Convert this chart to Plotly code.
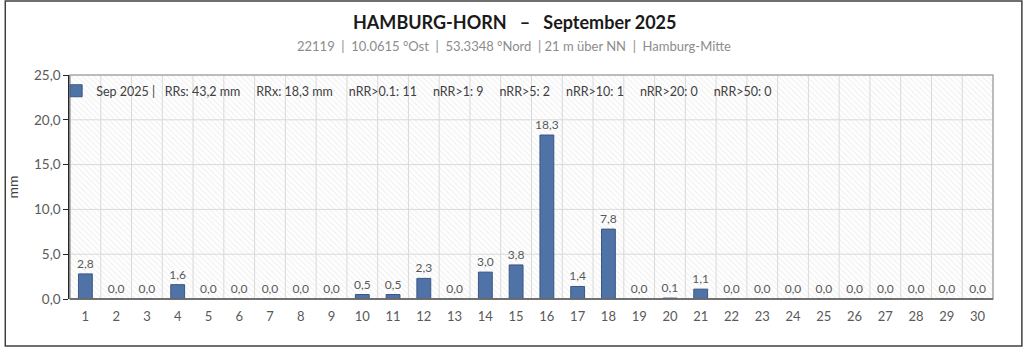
import plotly.graph_objects as go

days = list(range(1, 31))
precip = [2.8, 0.0, 0.0, 1.6, 0.0, 0.0, 0.0, 0.0, 0.0, 0.5,
          0.5, 2.3, 0.0, 3.0, 3.8, 18.3, 1.4, 7.8, 0.0, 0.1,
          1.1, 0.0, 0.0, 0.0, 0.0, 0.0, 0.0, 0.0, 0.0, 0.0]
y_ticks = [0, 5, 10, 15, 20, 25]
legend_name = ("Sep 2025 |   RRs: 43,2 mm     RRx: 18,3 mm     nRR>0.1: 11     nRR>1: 9     "
               "nRR>5: 2     nRR>10: 1     nRR>20: 0     nRR>50: 0")
title_text = "HAMBURG-HORN   –   September 2025"
subtitle_text = "22119  |  10.0615 °Ost  |  53.3348 °Nord  | 21 m über NN  |  Hamburg-Mitte"

FONT = "Lato"
W, H = 1024, 348
L, R, T, B = 66, 31, 75, 49
pw, ph = W - L - R, H - T - B

def fmt(v):
    return f"{v:.1f}".replace(".", ",")

fig = go.Figure()

# hatched background on base axis
fig.add_trace(go.Bar(
    x=[15.5], y=[25], width=[30], xaxis="x", yaxis="y",
    marker=dict(color="white", line=dict(width=0),
                pattern=dict(shape="\\", fgcolor="#e3e3e3", bgcolor="white", size=4, solidity=0.3)),
    showlegend=False, hoverinfo="skip"))

# grid lines (drawn above hatch, below data bars)
gx, gy = [], []
for d in days[:-1]:
    gx += [d + 0.5, d + 0.5, None]
    gy += [0, 25, None]
for t in y_ticks[1:-1]:
    gx += [0.5, 30.5, None]
    gy += [t, t, None]
fig.add_trace(go.Scatter(x=gx, y=gy, mode="lines", xaxis="x", yaxis="y",
                         line=dict(color="#d9d9d9", width=1), showlegend=False,
                         hoverinfo="skip"))

fig.add_trace(go.Bar(
    x=days, y=precip, name=legend_name, xaxis="x2", yaxis="y",
    marker=dict(color="#4f73a6", line=dict(color="#3b5683", width=1)),
    text=[fmt(v) for v in precip], textposition="outside", constraintext="none",
    textfont=dict(family=FONT, size=12, color="#595959"),
    cliponaxis=False))

shapes = []
# outer border
shapes.append(dict(type="rect", xref="paper", yref="paper",
                   x0=(1 - L) / pw, x1=(W - 2 - L) / pw,
                   y0=-(B - 2) / ph, y1=(ph + T - 1) / ph,
                   line=dict(color="#404040", width=1.5), layer="above"))
# plot area border
shapes.append(dict(type="rect", xref="paper", yref="paper", x0=0, x1=1, y0=0, y1=1,
                   line=dict(color="#a6a6a6", width=1.5), layer="above"))
# bottom axis line
shapes.append(dict(type="line", xref="paper", yref="paper", x0=0, x1=1, y0=0, y1=0,
                   line=dict(color="#595959", width=1.5), layer="above"))

fig.update_layout(
    width=W, height=H,
    margin=dict(l=L, r=R, t=T, b=B),
    paper_bgcolor="white", plot_bgcolor="white",
    bargap=0.55, barmode="overlay",
    font=dict(family=FONT, color="#595959", size=12),
    shapes=shapes,
    showlegend=True,
    legend=dict(x=-0.015, y=0.995, xanchor="left", yanchor="top",
                bgcolor="rgba(0,0,0,0)", font=dict(family=FONT, size=12.5, color="#404040"),
                itemwidth=30),
    xaxis=dict(range=[0.5, 30.5], tickmode="array", tickvals=days,
               ticktext=[str(d) for d in days], showgrid=False, zeroline=False,
               showline=False, ticks="", tickfont=dict(family=FONT, size=13, color="#595959"),
               ticklabelstandoff=8),
    xaxis2=dict(range=[0.5, 30.5], overlaying="x", visible=False),
    yaxis=dict(range=[0, 25], tickmode="array", tickvals=y_ticks,
               ticktext=[fmt(v) for v in y_ticks], showgrid=False,
               zeroline=False, showline=True, linecolor="#262626", linewidth=1.5,
               ticks="outside", ticklen=5, tickcolor="#262626",
               tickfont=dict(family=FONT, size=13.5, color="#595959"),
               title=dict(text="mm", font=dict(family=FONT, size=14, color="#404040"), standoff=12)),
    annotations=[
        dict(text="<b>" + title_text + "</b>", xref="paper", yref="paper",
             x=(512 - L) / pw, y=(H - B - 22) / ph, xanchor="center", yanchor="middle",
             showarrow=False, font=dict(family=FONT, size=18, color="#1a1a1a")),
        dict(text=subtitle_text, xref="paper", yref="paper",
             x=(512 - L) / pw, y=(H - B - 46) / ph, xanchor="center", yanchor="middle",
             showarrow=False, font=dict(family=FONT, size=13, color="#8c8c8c")),
    ],
)

fig.write_html("out.html")
